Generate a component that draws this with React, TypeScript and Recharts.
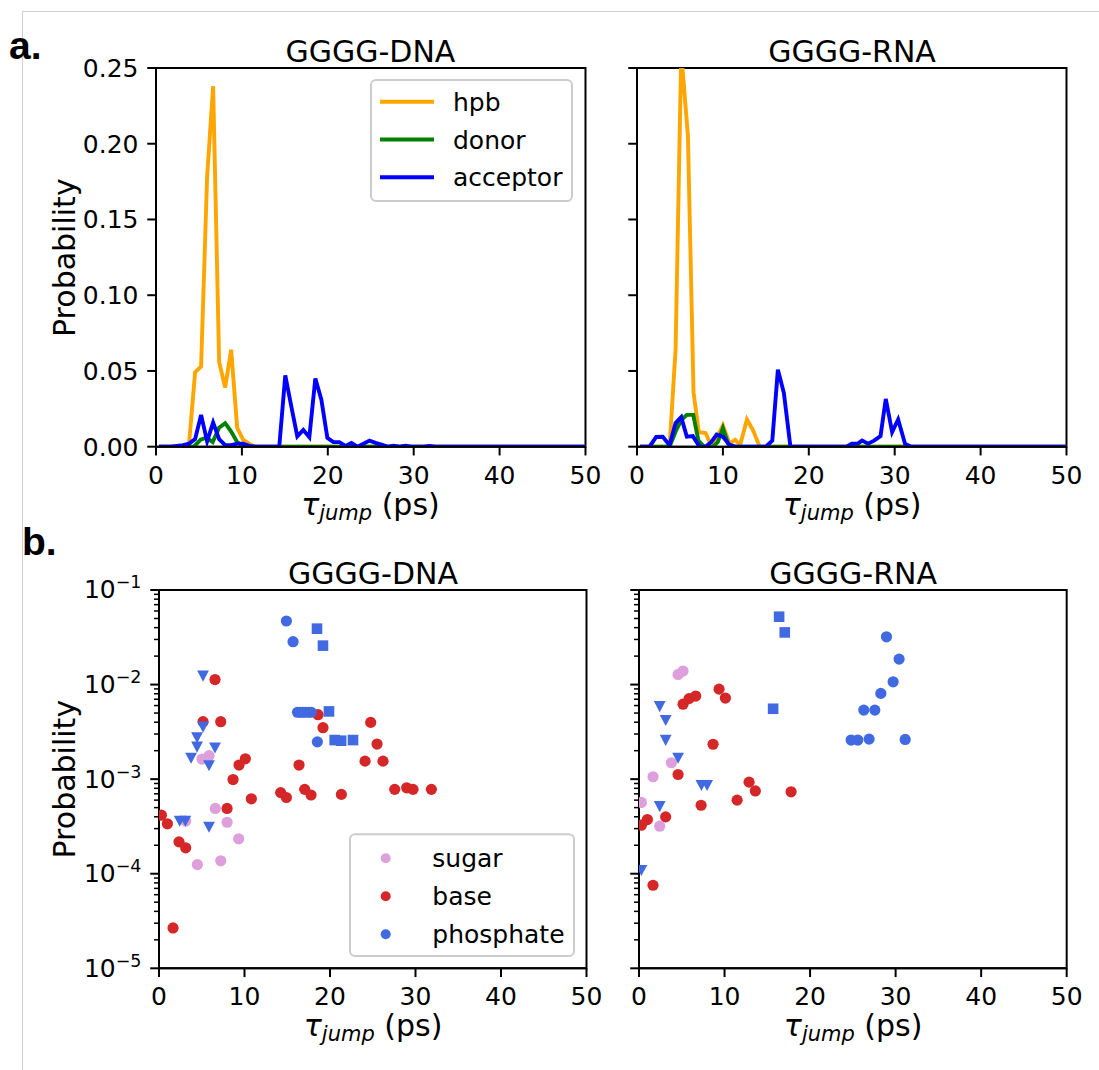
import React from 'react';
import { LineChart, Line, ScatterChart, Scatter, XAxis, YAxis, ReferenceArea } from 'recharts';

// ---- data (x = tau_jump in ps, y = probability) ----

const X_TICKS = [0, 10, 20, 30, 40, 50];
const LIN_Y_TICKS = [0, 0.05, 0.1, 0.15, 0.2, 0.25];
const LOG_DECADES = [1e-5, 1e-4, 1e-3, 1e-2];
const LOG_MANTISSAS = [1, 2, 3, 4, 5, 6, 7, 8, 9];
const LOG_Y_TICKS = [...LOG_DECADES.flatMap((d) => LOG_MANTISSAS.map((m) => m * d)), 1e-1];

const dnaHpb = [
  [0.35, 0], [3.15, 0], [3.85, 0.002], [4.55, 0.049], [5.25, 0.053], [5.95, 0.178], [6.65, 0.238],
  [7.35, 0.056], [8.05, 0.039], [8.75, 0.064], [9.45, 0.0125], [10.15, 0.0045], [10.85, 0.002],
  [11.55, 0], [50, 0],
];
const dnaDonor = [
  [0.35, 0], [4.4, 0], [5.2, 0.0046], [5.85, 0.006], [6.6, 0.003], [7.35, 0.0125], [8.05, 0.0155],
  [8.75, 0.01], [9.45, 0.003], [10.15, 0], [50, 0],
];
const dnaAcceptor = [
  [0.35, 0], [1.75, 0], [2.45, 0.0005], [3.15, 0.001], [3.85, 0.002], [4.55, 0.005], [5.25, 0.021],
  [5.95, 0.0035], [6.65, 0.016], [7.35, 0.005], [8.05, 0.001], [8.75, 0.001], [9.45, 0.002],
  [10.15, 0.002], [10.85, 0.0005], [11.55, 0], [14.35, 0], [15.05, 0.047], [15.75, 0.0266],
  [16.45, 0.0068], [17.15, 0.011], [17.85, 0.0063], [18.55, 0.045], [19.25, 0.031], [19.95, 0.0058],
  [20.65, 0.003], [21.35, 0.003], [22.05, 0.0005], [22.75, 0.0025], [23.45, 0], [24.15, 0.002],
  [24.85, 0.004], [25.55, 0.0025], [26.25, 0.0013], [26.95, 0], [27.65, 0.0007], [28.35, 0],
  [29.05, 0.0007], [29.75, 0], [31.15, 0], [31.85, 0.0005], [32.55, 0], [50, 0],
];

const rnaHpb = [
  [0.35, 0], [3.79, 0], [4.49, 0.064], [5.15, 0.26], [5.93, 0.205], [6.58, 0.036], [7.2, 0.0095],
  [7.98, 0.009], [8.5, 0.0025], [9.2, 0.005], [10.0, 0.014], [10.78, 0.002], [11.44, 0.0046],
  [12.0, 0.001], [12.8, 0.018], [13.5, 0.011], [14.28, 0], [50, 0],
];
const rnaDonor = [
  [0.35, 0], [3.79, 0], [4.57, 0.011], [5.15, 0.0176], [5.8, 0.021], [6.55, 0.021], [7.15, 0.004],
  [7.8, 0], [8.8, 0], [9.4, 0.003], [10.0, 0.0123], [10.6, 0.002], [11.3, 0], [50, 0],
];
const rnaAcceptor = [
  [0.35, 0], [1.46, 0], [2.23, 0.0064], [3.0, 0.0066], [3.79, 0.001], [4.49, 0.0156], [5.15, 0.0195],
  [5.8, 0.0066], [6.5, 0.007], [7.28, 0], [7.98, 0], [8.64, 0.003], [9.27, 0.008], [10.0, 0.0066],
  [10.8, 0.001], [11.5, 0], [15.0, 0], [15.75, 0.004], [16.4, 0.0508], [17.1, 0.0354], [17.86, 0],
  [24.4, 0], [25.0, 0.002], [25.7, 0.002], [26.2, 0.004], [26.9, 0.002], [27.6, 0.004],
  [28.35, 0.007], [28.96, 0.0315], [29.7, 0.0097], [30.4, 0.018], [31.2, 0.002], [31.9, 0], [50, 0],
];

const dnaSugar = [
  [5.03, 1.63e-3], [5.85, 1.77e-3], [6.59, 4.9e-4], [7.96, 3.5e-4], [9.32, 2.34e-4],
  [7.22, 1.37e-4], [4.49, 1.25e-4], [3.12, 3.6e-4],
];
const dnaBase = [
  [0.28, 4.16e-4], [0.98, 3.37e-4], [2.34, 2.17e-4], [3.12, 1.88e-4], [1.64, 2.67e-5],
  [5.15, 4.05e-3], [6.55, 1.13e-2], [7.22, 4.05e-3], [7.96, 4.9e-4], [8.66, 9.9e-4],
  [9.36, 1.41e-3], [10.1, 1.64e-3], [10.8, 6.2e-4], [14.23, 7.2e-4], [14.9, 6.4e-4],
  [16.38, 1.41e-3], [17.04, 7.8e-4], [17.78, 6.8e-4], [18.6, 4.8e-3], [19.18, 3.5e-3],
  [21.33, 6.9e-4], [24.76, 3.98e-3], [25.5, 2.35e-3], [24.1, 1.55e-3], [26.2, 1.55e-3],
  [27.57, 7.8e-4], [28.97, 8.1e-4], [29.71, 7.8e-4], [31.86, 7.8e-4],
];
const dnaPhosCircle = [
  [14.9, 4.7e-2], [15.68, 2.84e-2], [16.2, 5.1e-3], [16.5, 5.1e-3], [16.8, 5.1e-3],
  [17.1, 5.1e-3], [17.5, 5.1e-3], [17.8, 5.1e-3], [18.52, 2.48e-3],
];
const dnaPhosSquare = [
  [18.48, 3.9e-2], [19.18, 2.58e-2], [19.88, 5.2e-3], [20.55, 2.59e-3], [21.3, 2.55e-3], [22.69, 2.59e-3],
];
const dnaPhosTriangle = [
  [5.15, 1.24e-2], [5.15, 3.58e-3], [4.45, 2.76e-3], [4.45, 2.2e-3], [3.75, 1.68e-3],
  [6.55, 2.15e-3], [5.85, 1.4e-3], [2.42, 3.62e-4], [3.08, 3.62e-4], [5.85, 3.13e-4],
];

const rnaSugar = [
  [4.57, 1.28e-2], [5.15, 1.39e-2], [3.79, 1.49e-3], [1.64, 1.06e-3], [0.28, 5.67e-4], [2.42, 3.18e-4],
];
const rnaBase = [
  [0.28, 3.26e-4], [0.98, 3.74e-4], [3.12, 3.99e-4], [1.64, 7.55e-5], [4.57, 1.12e-3],
  [5.15, 6.2e-3], [5.85, 7.1e-3], [6.63, 7.56e-3], [7.26, 5.3e-4], [8.66, 2.34e-3],
  [9.36, 8.95e-3], [10.1, 7.2e-3], [11.47, 6.0e-4], [12.87, 9.3e-4], [13.6, 7.5e-4], [17.78, 7.35e-4],
];
const rnaPhosCircle = [
  [24.8, 2.59e-3], [25.58, 2.59e-3], [26.9, 2.65e-3], [26.28, 5.37e-3], [27.57, 5.37e-3],
  [28.27, 8.07e-3], [28.93, 3.2e-2], [29.71, 1.07e-2], [30.41, 1.86e-2], [31.12, 2.63e-3],
];
const rnaPhosSquare = [[16.38, 5.22e-2], [17.04, 3.56e-2], [15.68, 5.55e-3]];
const rnaPhosTriangle = [
  [2.42, 5.9e-3], [3.12, 4.2e-3], [3.12, 2.59e-3], [4.57, 1.68e-3], [7.3, 8.65e-4],
  [7.96, 8.65e-4], [2.42, 5.17e-4], [0.28, 1.09e-4],
];

// ---- styling ----

const FONT = '"DejaVu Sans", sans-serif';
const C_HPB = '#FFA500';
const C_DONOR = '#008000';
const C_ACC = '#0000FF';
const C_SUGAR = '#DDA0DD';
const C_BASE = '#D62728';
const C_PHOS = '#4169E1';

const TICK = 8.75;
const PAD = 8.75;
const PAD_L = 150;
const PAD_T = 24;
const PAD_R = 32;
const PAD_B = 80;
const LW = 3.9;

const TL = { x: 155.7, y: 68.3, w: 429.5, h: 378.7 };
const TR = { x: 637.3, y: 68.3, w: 429.5, h: 378.7 };
const BL = { x: 159.3, y: 590, w: 427.5, h: 378.3 };
const BR = { x: 639.3, y: 590, w: 427.7, h: 378.3 };

const toPts = (arr: number[][]) => arr.map(([x, y]) => ({ x, y }));

const BottomTick = (props: any) => {
  const { x, y, payload } = props;
  const axisY = y - TICK - PAD;
  return (
    <g>
      <line x1={x} x2={x} y1={axisY} y2={axisY + TICK} stroke="#000" strokeWidth={2} />
      <text x={x} y={axisY + 37} textAnchor="middle" fontSize={25} fontFamily={FONT} fill="#000">
        {payload.value}
      </text>
    </g>
  );
};

const makeLinTick = (showLabel: boolean) => (props: any) => {
  const { x, y, payload } = props;
  const axisX = x + TICK + PAD;
  return (
    <g>
      <line x1={axisX - TICK} x2={axisX} y1={y} y2={y} stroke="#000" strokeWidth={2} />
      {showLabel && (
        <text x={axisX - TICK - PAD} y={y + 9} textAnchor="end" fontSize={25} fontFamily={FONT} fill="#000">
          {payload.value.toFixed(2)}
        </text>
      )}
    </g>
  );
};

const makeLogTick = (showLabel: boolean) => (props: any) => {
  const { x, y, payload } = props;
  const axisX = x + TICK + PAD;
  const e = Math.log10(payload.value);
  const major = Math.abs(e - Math.round(e)) < 1e-6;
  return (
    <g>
      <line x1={axisX - (major ? TICK : 5)} x2={axisX} y1={y} y2={y} stroke="#000" strokeWidth={major ? 2 : 1.5} />
      {major && showLabel && (
        <text x={axisX - TICK - PAD} y={y + 8.5} textAnchor="end" fontSize={25} fontFamily={FONT} fill="#000">
          10
          <tspan dy={-10} fontSize={17.5}>{'\u2212' + Math.abs(Math.round(e))}</tspan>
        </text>
      )}
    </g>
  );
};

const circleShape = (color: string) => (p: any) => <circle cx={p.cx} cy={p.cy} r={5.6} fill={color} />;
const squareShape = (color: string) => (p: any) => (
  <rect x={p.cx - 5.3} y={p.cy - 5.3} width={10.6} height={10.6} fill={color} />
);
const triDownShape = (color: string) => (p: any) => (
  <path d={`M${p.cx - 5.9},${p.cy - 5.2} L${p.cx + 5.9},${p.cy - 5.2} L${p.cx},${p.cy + 5.9} Z`} fill={color} />
);

type Rect = { x: number; y: number; w: number; h: number };

function LinePanel({ rect, hpb, donor, acceptor, labels }: { rect: Rect; hpb: number[][]; donor: number[][]; acceptor: number[][]; labels: boolean }) {
  return (
    <div style={{ position: 'absolute', left: rect.x - PAD_L, top: rect.y - PAD_T }}>
      <LineChart
        width={rect.w + PAD_L + PAD_R}
        height={rect.h + PAD_T + PAD_B}
        margin={{ top: PAD_T, right: PAD_R, left: 0, bottom: 0 }}
      >
        <XAxis
          type="number"
          dataKey="x"
          domain={[0, 50]}
          ticks={X_TICKS}
          interval={0}
          height={PAD_B}
          tickSize={TICK}
          tickMargin={PAD}
          tickLine={false}
          tick={BottomTick}
          axisLine={{ stroke: '#000', strokeWidth: 2 }}
          allowDataOverflow
        />
        <YAxis
          type="number"
          dataKey="y"
          domain={[0, 0.25]}
          ticks={LIN_Y_TICKS}
          interval={0}
          width={PAD_L}
          tickSize={TICK}
          tickMargin={PAD}
          tickLine={false}
          tick={makeLinTick(labels)}
          axisLine={{ stroke: '#000', strokeWidth: 2 }}
          allowDataOverflow
        />
        <Line data={toPts(hpb)} dataKey="y" stroke={C_HPB} strokeWidth={LW} dot={false} isAnimationActive={false} />
        <Line data={toPts(donor)} dataKey="y" stroke={C_DONOR} strokeWidth={LW} dot={false} isAnimationActive={false} />
        <Line data={toPts(acceptor)} dataKey="y" stroke={C_ACC} strokeWidth={LW} dot={false} isAnimationActive={false} />
        <ReferenceArea x1={0} x2={50} y1={0} y2={0.25} fill="none" stroke="#000" strokeWidth={2} />
      </LineChart>
    </div>
  );
}

function ScatterPanel({ rect, sugar, base, circles, squares, triangles, labels }: {
  rect: Rect; sugar: number[][]; base: number[][]; circles: number[][]; squares: number[][]; triangles: number[][]; labels: boolean;
}) {
  return (
    <div style={{ position: 'absolute', left: rect.x - PAD_L, top: rect.y - PAD_T }}>
      <ScatterChart
        width={rect.w + PAD_L + PAD_R}
        height={rect.h + PAD_T + PAD_B}
        margin={{ top: PAD_T, right: PAD_R, left: 0, bottom: 0 }}
      >
        <XAxis
          type="number"
          dataKey="x"
          domain={[0, 50]}
          ticks={X_TICKS}
          interval={0}
          height={PAD_B}
          tickSize={TICK}
          tickMargin={PAD}
          tickLine={false}
          tick={BottomTick}
          axisLine={{ stroke: '#000', strokeWidth: 2 }}
          allowDataOverflow
        />
        <YAxis
          type="number"
          dataKey="y"
          scale="log"
          domain={[1e-5, 1e-1]}
          ticks={LOG_Y_TICKS}
          interval={0}
          width={PAD_L}
          tickSize={TICK}
          tickMargin={PAD}
          tickLine={false}
          tick={makeLogTick(labels)}
          axisLine={{ stroke: '#000', strokeWidth: 2 }}
          allowDataOverflow
        />
        <Scatter data={toPts(sugar)} shape={circleShape(C_SUGAR)} isAnimationActive={false} />
        <Scatter data={toPts(base)} shape={circleShape(C_BASE)} isAnimationActive={false} />
        <Scatter data={toPts(circles)} shape={circleShape(C_PHOS)} isAnimationActive={false} />
        <Scatter data={toPts(squares)} shape={squareShape(C_PHOS)} isAnimationActive={false} />
        <Scatter data={toPts(triangles)} shape={triDownShape(C_PHOS)} isAnimationActive={false} />
        <ReferenceArea x1={0} x2={50} y1={1e-5} y2={1e-1} fill="none" stroke="#000" strokeWidth={2} />
      </ScatterChart>
    </div>
  );
}

function XLabel({ rect }: { rect: Rect }) {
  return (
    <text x={rect.x + rect.w / 2} y={rect.y + rect.h + 68} textAnchor="middle" fontSize={30} fontFamily={FONT} fill="#000">
      <tspan fontStyle="italic">τ</tspan>
      <tspan fontStyle="italic" fontSize={21} dy={5}>jump</tspan>
      <tspan dy={-5}>{'\u00a0(ps)'}</tspan>
    </text>
  );
}

function YLabel({ rect }: { rect: Rect }) {
  const cy = rect.y + rect.h / 2;
  return (
    <text transform={`translate(75, ${cy}) rotate(-90)`} textAnchor="middle" fontSize={30} fontFamily={FONT} fill="#000">
      Probability
    </text>
  );
}

function Title({ rect, text }: { rect: Rect; text: string }) {
  return (
    <text x={rect.x + rect.w / 2} y={rect.y - 6} textAnchor="middle" fontSize={30} fontFamily={FONT} fill="#000">
      {text}
    </text>
  );
}

const LINE_LEGEND = [
  { label: 'hpb', color: C_HPB },
  { label: 'donor', color: C_DONOR },
  { label: 'acceptor', color: C_ACC },
];
const SCATTER_LEGEND = [
  { label: 'sugar', color: C_SUGAR },
  { label: 'base', color: C_BASE },
  { label: 'phosphate', color: C_PHOS },
];

export default function App() {
  return (
    <div style={{ position: 'absolute', left: 0, top: 0, width: 1099, height: 1070, background: '#fff', overflow: 'hidden' }}>
      <div style={{ position: 'absolute', left: 22, top: 11, width: 1077, height: 1059, borderTop: '1px solid #cfcfcf', borderLeft: '1px solid #cfcfcf' }} />

      <LinePanel rect={TL} hpb={dnaHpb} donor={dnaDonor} acceptor={dnaAcceptor} labels />
      <LinePanel rect={TR} hpb={rnaHpb} donor={rnaDonor} acceptor={rnaAcceptor} labels={false} />
      <ScatterPanel rect={BL} sugar={dnaSugar} base={dnaBase} circles={dnaPhosCircle} squares={dnaPhosSquare} triangles={dnaPhosTriangle} labels />
      <ScatterPanel rect={BR} sugar={rnaSugar} base={rnaBase} circles={rnaPhosCircle} squares={rnaPhosSquare} triangles={rnaPhosTriangle} labels={false} />

      <svg width={1099} height={1070} style={{ position: 'absolute', left: 0, top: 0, pointerEvents: 'none' }}>
        <text x={9} y={59} fontSize={39} fontWeight="bold" fontFamily='"Liberation Sans", Arial, sans-serif' fill="#000">a.</text>
        <text x={22} y={555} fontSize={39} fontWeight="bold" fontFamily='"Liberation Sans", Arial, sans-serif' fill="#000">b.</text>

        <Title rect={TL} text="GGGG-DNA" />
        <Title rect={TR} text="GGGG-RNA" />
        <Title rect={BL} text="GGGG-DNA" />
        <Title rect={BR} text="GGGG-RNA" />

        <YLabel rect={TL} />
        <YLabel rect={BL} />
        <XLabel rect={TL} />
        <XLabel rect={TR} />
        <XLabel rect={BL} />
        <XLabel rect={BR} />

        <rect x={371} y={80} width={201} height={121} rx={5} fill="#fff" fillOpacity={0.8} stroke="#cccccc" strokeWidth={2} />
        {LINE_LEGEND.map((item, i) => (
          <g key={item.label}>
            <line x1={380} x2={434} y1={101.7 + i * 37.8} y2={101.7 + i * 37.8} stroke={item.color} strokeWidth={LW} />
            <text x={453} y={101.7 + i * 37.8 + 9} fontSize={25} fontFamily={FONT} fill="#000">{item.label}</text>
          </g>
        ))}

        <rect x={350} y={834.3} width={224} height={121.7} rx={5} fill="#fff" fillOpacity={0.8} stroke="#cccccc" strokeWidth={2} />
        {SCATTER_LEGEND.map((item, i) => (
          <g key={item.label}>
            <circle cx={385.7} cy={858.3 + i * 38} r={5} fill={item.color} />
            <text x={432.3} y={858.3 + i * 38 + 9} fontSize={25} fontFamily={FONT} fill="#000">{item.label}</text>
          </g>
        ))}
      </svg>
    </div>
  );
}
